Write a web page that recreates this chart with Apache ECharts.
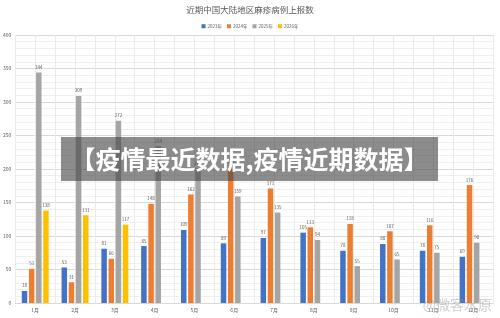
<!DOCTYPE html>
<html><head><meta charset="utf-8">
<script src="https://cdn.jsdelivr.net/npm/echarts@6/dist/echarts.min.js"></script>
<style>html,body{margin:0;padding:0;background:#fff}#c{width:500px;height:318px}</style>
</head><body><div id="c"></div>
<script>
const categories = ['1月','2月','3月','4月','5月','6月','7月','8月','9月','10月','11月','12月'];
const seriesNames = ['2023年','2024年','2025年','2026年'];
const s2023 = [18,53,81,85,109,89,97,105,78,88,78,69];
const s2024 = [51,31,66,148,162,203,171,113,118,107,116,176];
const s2025 = [344,309,272,234,201,159,135,94,55,65,75,90];
const s2026 = [138,131,117,null,null,null,null,null,null,null,null,null];
const colors = ['#4472C4','#ED7D31','#A5A5A5','#FFC000'];
const yTicks = [0,50,100,150,200,250,300,350,400];

const chart = echarts.init(document.getElementById('c'), null, {renderer:'canvas'});
const dataArr = [s2023,s2024,s2025,s2026];
chart.setOption({
  animation:false,
  textStyle:{fontFamily:'Noto Sans CJK SC'},
  title:{text:'近期中国大陆地区麻疹病例上报数',left:'center',top:1,
    textStyle:{fontSize:8.5,fontWeight:'normal',color:'#595959',fontFamily:'Noto Sans CJK SC'}},
  legend:{top:19,left:'center',itemWidth:4,itemHeight:4,itemGap:5,icon:'rect',
    textStyle:{fontSize:4.5,color:'#595959',padding:[0,0,0,-3]},data:seriesNames},
  grid:{left:15,right:7,top:35,bottom:15},
  xAxis:[{type:'category',data:categories,
    axisLine:{lineStyle:{color:'#d9d9d9'}},axisTick:{show:false},
    axisLabel:{fontSize:5,color:'#595959',margin:5},
    splitLine:{show:false}},
   {type:'value',min:0,max:24,interval:1,show:true,position:'bottom',
    axisLine:{show:false},axisTick:{show:false},axisLabel:{show:false},
    splitLine:{show:true,lineStyle:{color:'#ebebeb',width:1}}}],
  yAxis:{type:'value',min:yTicks[0],max:yTicks[yTicks.length-1],interval:50,
    axisLine:{show:false},axisTick:{show:false},
    axisLabel:{fontSize:5,color:'#595959',margin:4},
    splitLine:{lineStyle:{color:'#d9d9d9'}},
    minorTick:{show:false,splitNumber:5},
    minorSplitLine:{show:true,lineStyle:{color:'#f0f0f0'}}},
  series: seriesNames.map((n,i)=>({
    name:n,type:'bar',data:dataArr[i],xAxisIndex:0,
    barWidth:5.5,barGap:'30%',
    itemStyle:{color:colors[i]},
    label:{show:true,position:'top',fontSize:4.5,color:'#595959',distance:3}
  })),
  graphic:[
    {type:'rect',shape:{x:61,y:137,width:377,height:44},style:{fill:'rgba(70,70,70,0.62)'},z:100},
    {type:'text',x:249.5,y:159,style:{text:'【疫情最近数据,疫情近期数据】',fill:'#ffffff',
      font:'bold 25px "Noto Sans CJK SC"',textAlign:'center',textVerticalAlign:'middle'},z:101},
    {type:'text',x:492,y:305,style:{text:'@微客水原',fill:'rgba(150,150,150,0.45)',
      font:'14px "Noto Sans CJK SC"',textAlign:'right',textVerticalAlign:'middle'},z:101}
  ]
});
</script></body></html>
